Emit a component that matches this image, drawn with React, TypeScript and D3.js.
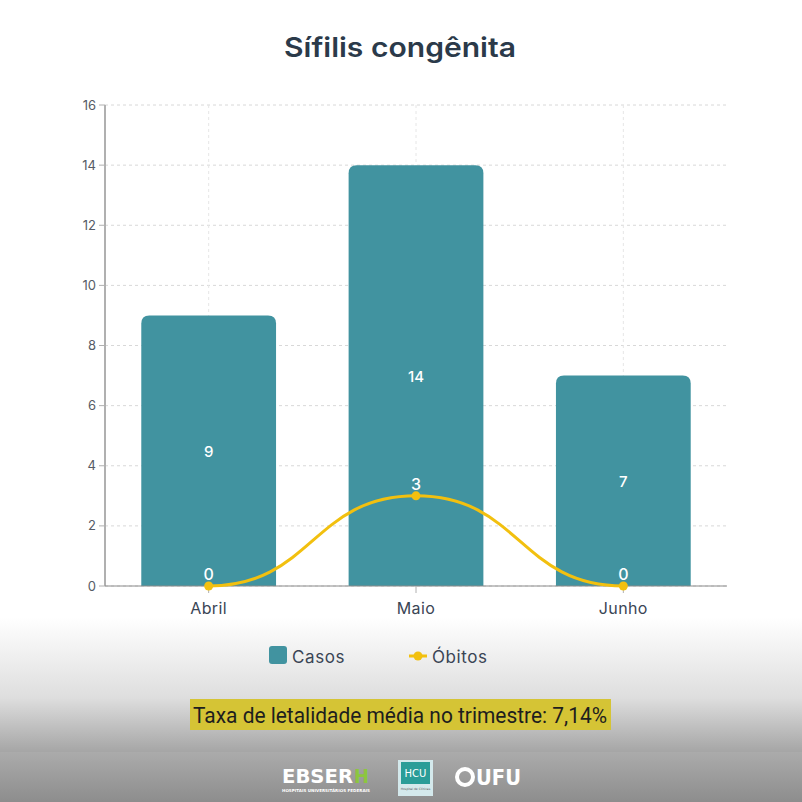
import React from 'react';
import * as d3 from 'd3';

const months = ['Abril', 'Maio', 'Junho'];
const casos = [9, 14, 7];
const obitos = [0, 3, 0];
const yTicks = [0, 2, 4, 6, 8, 10, 12, 14, 16];

const W = 802, H = 802;
const margin = { top: 105, right: 75, bottom: 216, left: 105 };
const teal = '#4193a0';
const gold = '#f2c00f';
const font = 'Inter, "Noto Sans", sans-serif';

const x = d3.scaleBand<string>().domain(months).range([margin.left, W - margin.right]).paddingInner(0.35).paddingOuter(0.175);
const y = d3.scaleLinear().domain([0, 16]).range([H - margin.bottom, margin.top]);
const cx = (m: string) => (x(m) as number) + x.bandwidth() / 2;

const line = d3.line<number>()
  .x((_, i) => cx(months[i]))
  .y(d => y(d))
  .curve(d3.curveBumpX);

function barPath(x0: number, y0: number, w: number, h: number, r: number) {
  return `M${x0},${y0 + h}V${y0 + r}Q${x0},${y0} ${x0 + r},${y0}H${x0 + w - r}Q${x0 + w},${y0} ${x0 + w},${y0 + r}V${y0 + h}Z`;
}

export default function App() {
  const base = y(0);
  return (
    <svg width={W} height={H} style={{ position: 'absolute', left: 0, top: 0 }}>
      <defs>
        <linearGradient id="bg" x1="0" y1="0" x2="0" y2="1">
          <stop offset="0" stopColor="#ffffff" />
          <stop offset="0.77" stopColor="#ffffff" />
          <stop offset="0.87" stopColor="#dedede" />
          <stop offset="0.937" stopColor="#a6a6a6" />
          <stop offset="0.938" stopColor="#ababab" />
          <stop offset="1" stopColor="#8d8d8d" />
        </linearGradient>
      </defs>
      <rect width={W} height={H} fill="url(#bg)" />

      <text x={400} y={57} textAnchor="middle" fontFamily={font} fontWeight={600} fontSize={27} fill="#2b3a4a" textLength={232} lengthAdjust="spacingAndGlyphs">Sífilis congênita</text>

      {/* grid */}
      {yTicks.map(t => (
        <line key={t} x1={margin.left} x2={W - margin.right} y1={y(t)} y2={y(t)} stroke="#d8d8d8" strokeDasharray="3,3" />
      ))}
      {months.map(m => (
        <line key={m} x1={cx(m)} x2={cx(m)} y1={margin.top} y2={base} stroke="#e6e6e6" strokeDasharray="3,3" />
      ))}

      {/* bars */}
      {casos.map((v, i) => (
        <path key={i} d={barPath(x(months[i]) as number, y(v), x.bandwidth(), base - y(v), 8)} fill={teal} />
      ))}

      {/* y axis */}
      <line x1={margin.left} x2={margin.left} y1={margin.top} y2={base} stroke="#b0b0b0" strokeWidth={2} />
      {yTicks.map(t => (
        <g key={t}>
          <line x1={margin.left - 6} x2={margin.left} y1={y(t)} y2={y(t)} stroke="#b0b0b0" />
          <text x={margin.left - 9} y={y(t) + 4.5} textAnchor="end" fontFamily={font} fontSize={13} fill="#555c66">{t}</text>
        </g>
      ))}

      {/* x axis */}
      <line x1={margin.left} x2={W - margin.right} y1={base} y2={base} stroke="#8a8a8a" />
      {months.map(m => (
        <g key={m}>
          <line x1={cx(m)} x2={cx(m)} y1={base} y2={base + 7} stroke="#b0b0b0" />
          <text x={cx(m)} y={base + 28} textAnchor="middle" fontFamily={font} fontSize={16} letterSpacing={0.4} fill="#3a4555">{m}</text>
        </g>
      ))}

      {/* bar labels */}
      {casos.map((v, i) => (
        <text key={i} x={cx(months[i])} y={(y(v) + base) / 2 + 6} textAnchor="middle" fontFamily={font} fontSize={15} fontWeight={500} fill="#ffffff">{v}</text>
      ))}

      {/* line */}
      <path d={line(obitos) || ''} fill="none" stroke={gold} strokeWidth={3} />
      {obitos.map((v, i) => (
        <g key={i}>
          <circle cx={cx(months[i])} cy={y(v)} r={4.5} fill={gold} />
          <text x={cx(months[i])} y={y(v) - 6} textAnchor="middle" fontFamily={font} fontSize={16} fontWeight={500} fill="#ffffff">{v}</text>
        </g>
      ))}

      {/* legend */}
      <rect x={269} y={646} width={18} height={18} rx={3} fill={teal} />
      <text x={292} y={663} fontFamily={font} fontSize={17} letterSpacing={0.6} fill="#3a4555">Casos</text>
      <line x1={409} x2={427} y1={656} y2={656} stroke={gold} strokeWidth={3} />
      <circle cx={418} cy={656} r={4.5} fill={gold} />
      <text x={432} y={663} fontFamily={font} fontSize={17} letterSpacing={0.6} fill="#3a4555">Óbitos</text>

      {/* caption */}
      <rect x={190} y={699} width={421} height={31} fill="#d5c435" />
      <text x={400} y={723} textAnchor="middle" fontFamily="Roboto, sans-serif" fontSize={22} fill="#1e1e1e" textLength={414} lengthAdjust="spacingAndGlyphs">Taxa de letalidade média no trimestre: 7,14%</text>

      {/* footer logos */}
      <text x={282} y={783} fontFamily="'DejaVu Sans', sans-serif" fontWeight={700} fontSize={20} fill="#ffffff" textLength={71} lengthAdjust="spacingAndGlyphs">EBSER</text>
      <text x={354} y={783} fontFamily="'DejaVu Sans', sans-serif" fontWeight={700} fontSize={20} fill="#8cc63f" textLength={15} lengthAdjust="spacingAndGlyphs">H</text>
      <text x={282} y={792} fontFamily="'DejaVu Sans', sans-serif" fontWeight={700} fontSize={4} fill="#ffffff" textLength={88} lengthAdjust="spacingAndGlyphs">HOSPITAIS UNIVERSITÁRIOS FEDERAIS</text>
      <rect x={398} y={760} width={35} height={36} fill="#d4e9ec" />
      <rect x={401} y={762} width={29} height={22} fill="#2a9d98" />
      <text x={415.5} y={777} textAnchor="middle" fontFamily="'DejaVu Sans', sans-serif" fontSize={10} fill="#ffffff">HCU</text>
      <text x={415.5} y={790} textAnchor="middle" fontFamily="'DejaVu Sans', sans-serif" fontSize={3} fill="#555">Hospital de Clínicas</text>
      <circle cx={465} cy={777} r={8} fill="none" stroke="#ffffff" strokeWidth={4} />
      <text x={476} y={785} fontFamily="'DejaVu Sans', sans-serif" fontWeight={700} fontSize={21} fill="#ffffff" textLength={45} lengthAdjust="spacingAndGlyphs">UFU</text>
    </svg>
  );
}
